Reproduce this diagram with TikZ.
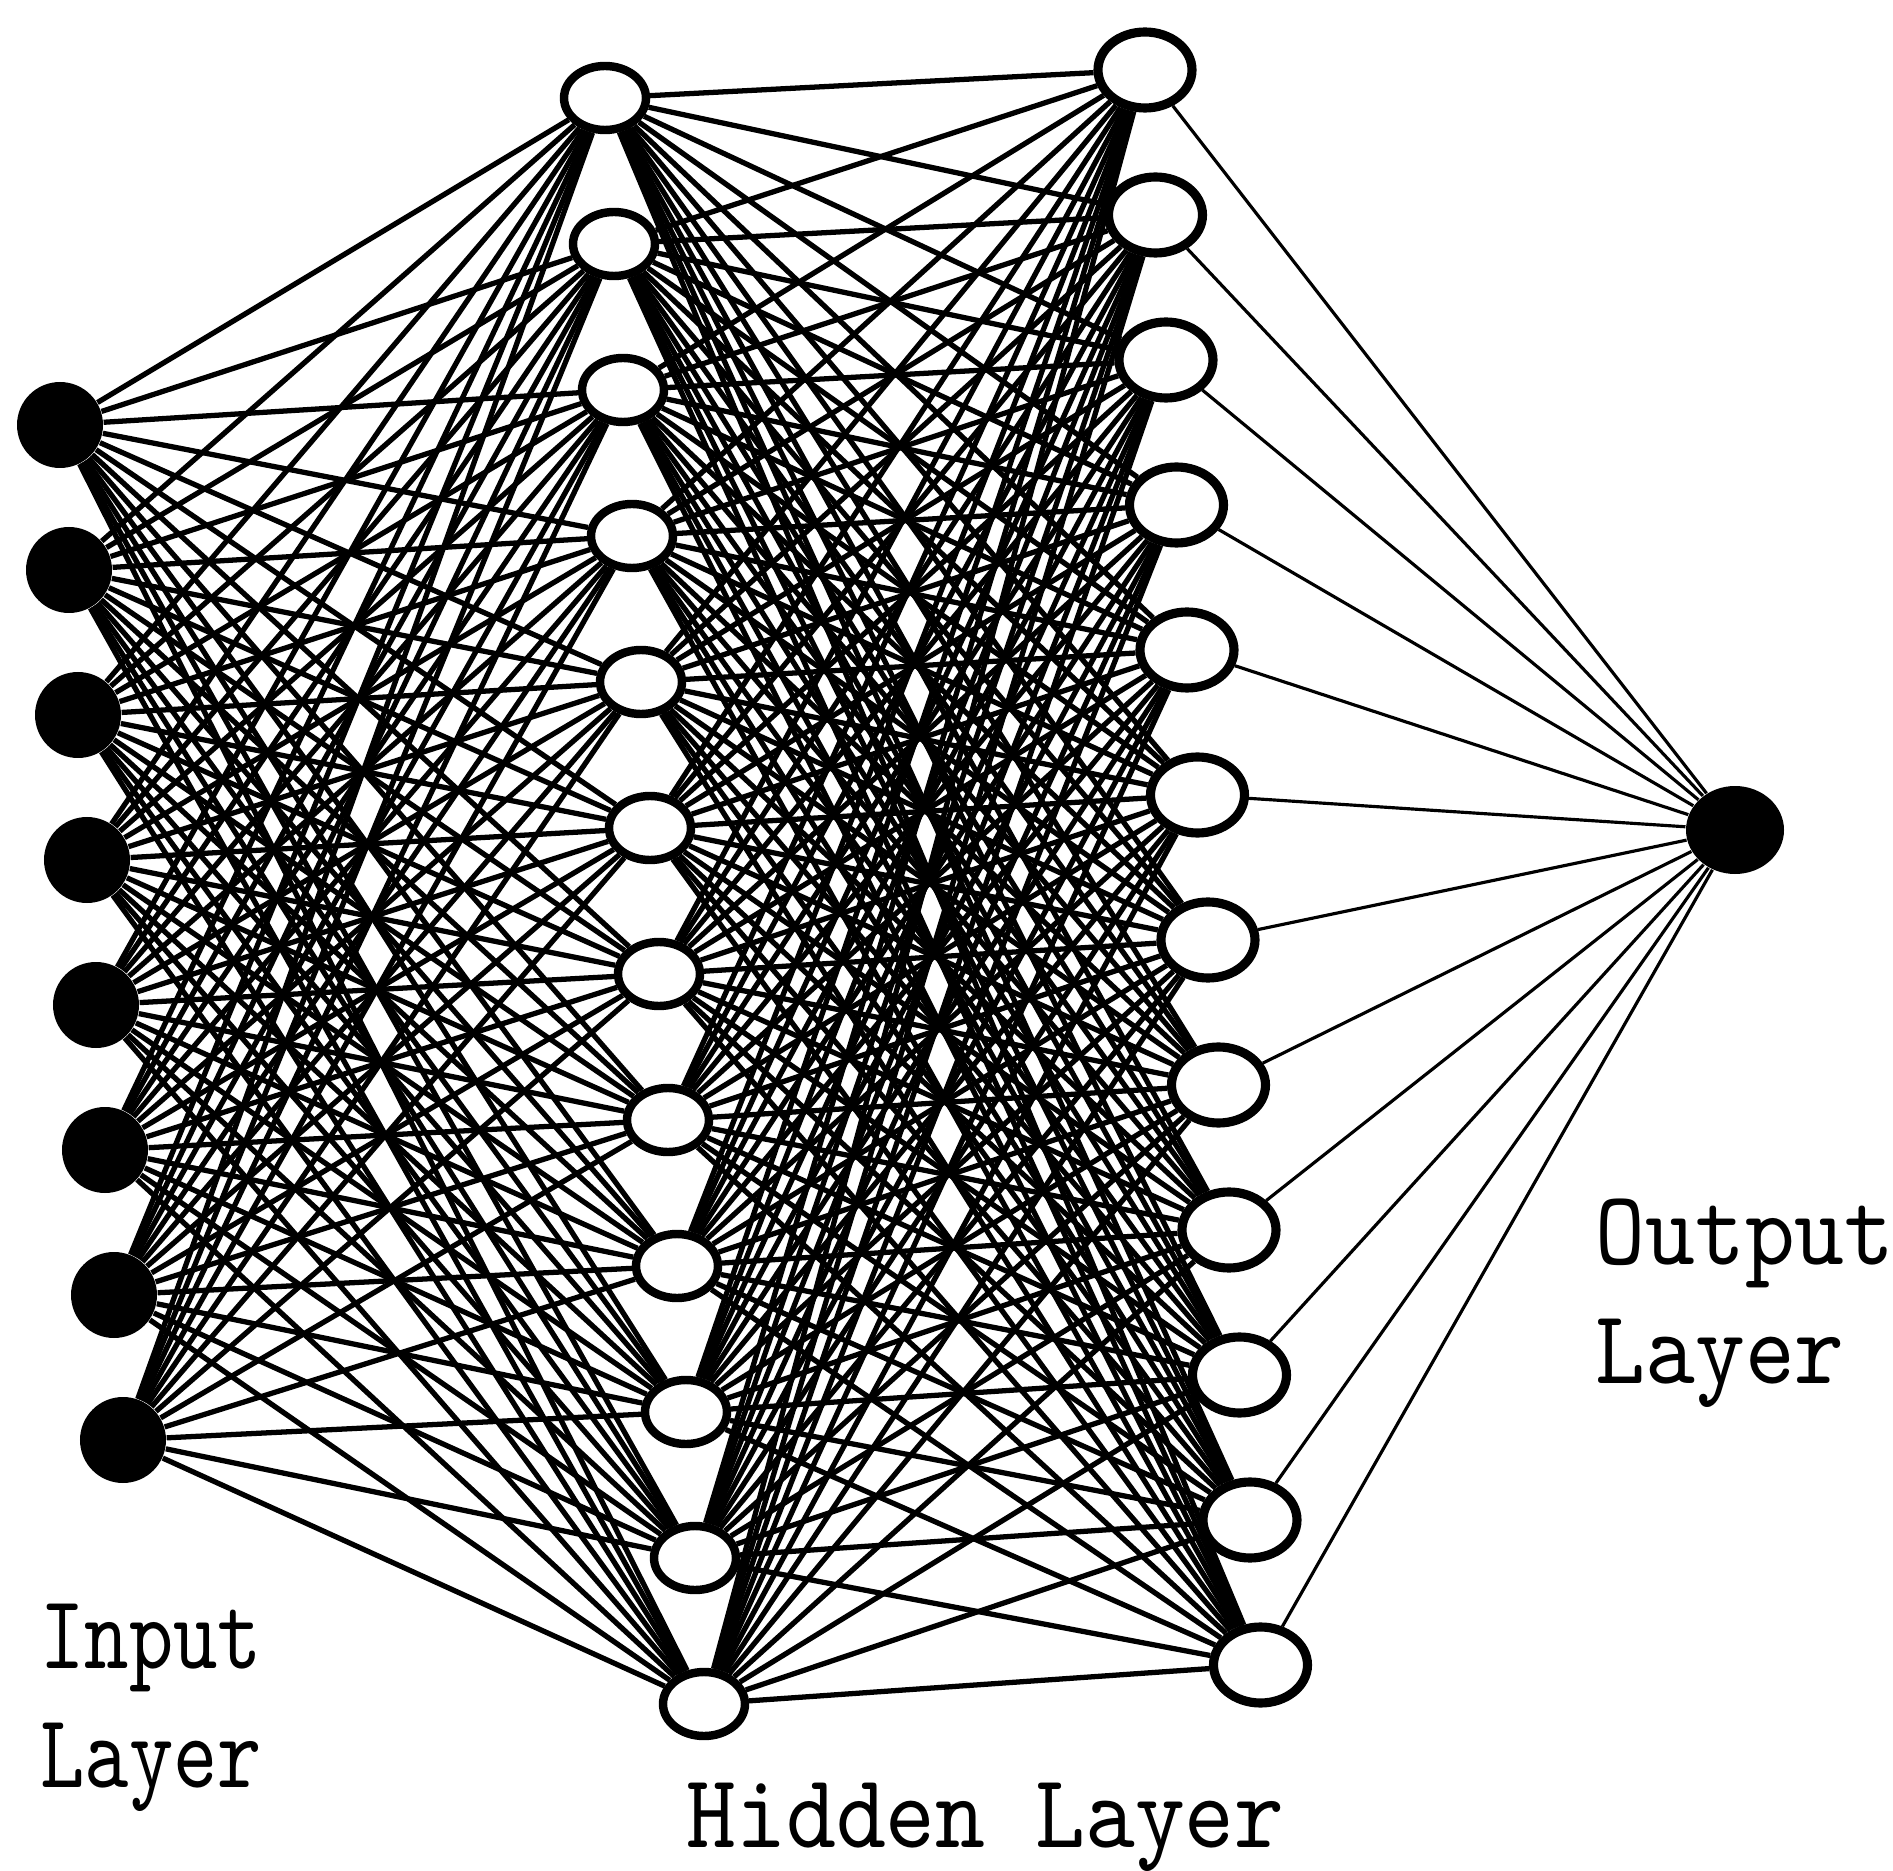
\documentclass[tikz,border=0pt]{standalone}
\usepackage{fontspec}
\usetikzlibrary{shapes.geometric,backgrounds}
\newfontfamily\labelfont[FakeStretch=0.8]{lmmono10-regular.otf}
\newfontfamily\widelabelfont[FakeStretch=0.9]{lmmono10-regular.otf}

\begin{document}
\begin{tikzpicture}[
  every node/.style={inner sep=0pt},
  innode/.style={circle, fill=black, minimum size=8.6mm},
  hidnode/.style={ellipse, draw=black, line width=2.4pt, fill=white, minimum width=8.2mm, minimum height=6.4mm},
  hidnodeb/.style={ellipse, draw=black, line width=2.6pt, fill=white, minimum width=9.4mm, minimum height=7.6mm},
  outnode/.style={ellipse, fill=black, minimum width=9.8mm, minimum height=8.8mm},
  wire/.style={black, line width=1.5pt},
  fanwire/.style={black, line width=0.9pt},
  lbl/.style={font=\fontsize{30}{34}\selectfont, align=left}
]
\useasboundingbox (0,0) rectangle (18.93,-18.71);

% input layer
\foreach \i in {1,...,8}
  \node[innode] (in\i) at ({0.60+0.09*(\i-1)}, {-4.25-1.45*(\i-1)}) {};
% hidden layer, two columns
\foreach \j in {1,...,12}
  \node[hidnode] (ha\j) at ({6.05+0.09*(\j-1)}, {-0.98-1.46*(\j-1)}) {};
\foreach \k in {1,...,12}
  \node[hidnodeb] (hb\k) at ({11.45+0.105*(\k-1)}, {-0.70-1.45*(\k-1)}) {};
% output layer
\node[outnode] (out) at (17.35,-8.30) {};

\begin{scope}[on background layer]
\foreach \i in {1,...,8}
  \foreach \j in {1,...,12}
    \draw[wire] (in\i) -- (ha\j);
\foreach \j in {1,...,12}
  \foreach \k in {1,...,12}
    \draw[wire] (ha\j) -- (hb\k);
\foreach \k in {1,...,12}
  \draw[fanwire] (hb\k) -- (out);
\end{scope}

\node[lbl, anchor=north west] (inlbl) at (0.40,-16.03) {\labelfont Input\\\labelfont Layer};
\node[lbl, anchor=north west] (outlbl) at (15.95,-11.98) {\widelabelfont Output\\\widelabelfont Layer};
\node[lbl, anchor=base west] (hidlbl) at (6.86,-18.47) {\widelabelfont Hidden Layer};
\end{tikzpicture}
\end{document}
